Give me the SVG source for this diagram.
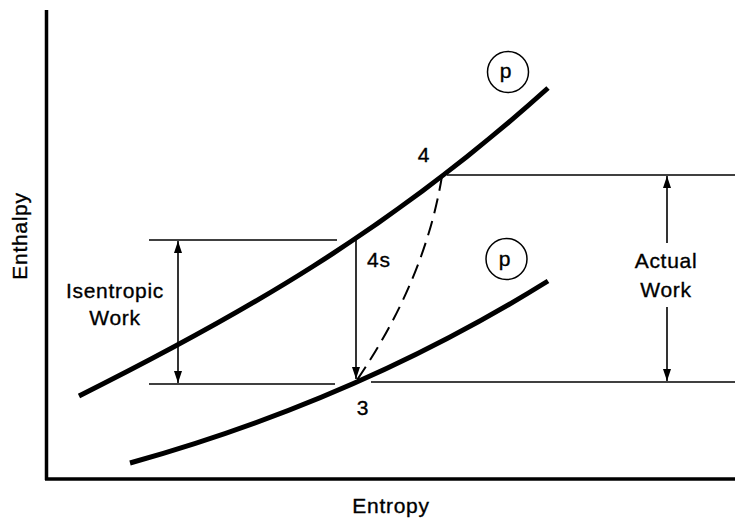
<svg xmlns="http://www.w3.org/2000/svg" width="735" height="519" viewBox="0 0 735 519">
<style>
  .lbl { font-family: "Liberation Sans", Arial, sans-serif; font-size: 21px; letter-spacing: 0.7px; fill: #000; stroke: #000; stroke-width: 0.35px; }
  .mid { text-anchor: middle; }
  .axis { stroke: #000; stroke-width: 3.5; fill: none; }
  .curve { stroke: #000; stroke-width: 5; fill: none; stroke-linecap: butt; }
  .thin { stroke: #000; stroke-width: 1.6; fill: none; }
  .dash { stroke: #000; stroke-width: 2; fill: none; stroke-dasharray: 15 8; }
  .circ { stroke: #000; stroke-width: 1.5; fill: #fff; }
</style>
<defs>
  <marker id="ah" viewBox="0 0 12 8" refX="12" refY="4" markerWidth="12" markerHeight="8" markerUnits="userSpaceOnUse" orient="auto-start-reverse">
    <path d="M0,0 L12,4 L0,8 Z" fill="#000"/>
  </marker>
</defs>
<rect width="735" height="519" fill="#fff"/>
<g id="axes">
  <line class="axis" x1="46.5" y1="10" x2="46.5" y2="480"/>
  <line class="axis" x1="45" y1="479" x2="735" y2="479"/>
  <text class="lbl mid" transform="translate(27,236) rotate(-90)">Enthalpy</text>
  <text class="lbl mid" x="391" y="513">Entropy</text>
</g>
<g id="curve-upper">
  <path class="curve" d="M79,396 C239,316 388,232 548,88"/>
</g>
<g id="curve-lower">
  <path class="curve" d="M130,463 C270,424 408,368 548,281"/>
</g>
<g id="connectors">
  <line class="thin" x1="149" y1="240" x2="337" y2="240"/>
  <line class="thin" x1="149" y1="384" x2="335" y2="384"/>
  <line class="thin" x1="371" y1="382" x2="735" y2="382"/>
  <line class="thin" x1="447" y1="175" x2="735" y2="175"/>
  <line class="thin" x1="178" y1="241" x2="178" y2="383" marker-start="url(#ah)" marker-end="url(#ah)"/>
  <line class="thin" x1="667" y1="176" x2="667" y2="243" marker-start="url(#ah)"/>
  <line class="thin" x1="667" y1="307" x2="667" y2="381" marker-end="url(#ah)"/>
  <line class="thin" x1="356" y1="238" x2="356" y2="379" marker-end="url(#ah)"/>
  <path class="dash" d="M442,176 Q425,280 357,380"/>
</g>
<g id="label-isentropic">
  <text class="lbl mid" x="115" y="298">Isentropic</text>
  <text class="lbl mid" x="115" y="325">Work</text>
</g>
<g id="label-actual">
  <text class="lbl mid" x="666" y="268">Actual</text>
  <text class="lbl mid" x="666" y="297">Work</text>
</g>
<g id="point-4"><text class="lbl mid" x="424" y="162">4</text></g>
<g id="point-4s"><text class="lbl" x="367" y="267">4s</text></g>
<g id="point-3"><text class="lbl mid" x="363" y="415">3</text></g>
<g id="p-upper">
  <circle class="circ" cx="508" cy="72" r="20.5"/>
  <text class="lbl mid" x="506" y="78">p</text>
</g>
<g id="p-lower">
  <circle class="circ" cx="506.5" cy="259" r="20.5"/>
  <text class="lbl mid" x="505" y="266">p</text>
</g>
</svg>
